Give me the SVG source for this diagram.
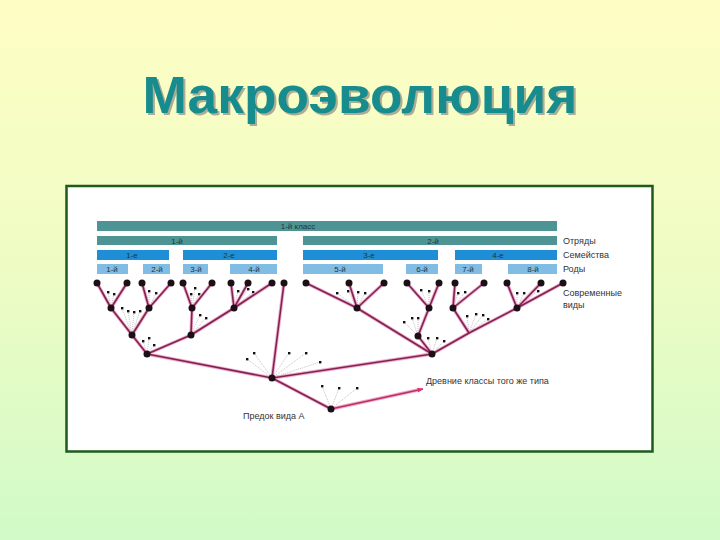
<svg xmlns="http://www.w3.org/2000/svg" width="720" height="540" viewBox="0 0 720 540">
<defs>
<linearGradient id="bg" x1="0" y1="0" x2="0" y2="1">
<stop offset="0" stop-color="#fefec4"/>
<stop offset="0.5" stop-color="#eefcc4"/>
<stop offset="1" stop-color="#d0fac8"/>
</linearGradient>
<filter id="sh" x="-5%" y="-20%" width="110%" height="140%">
<feDropShadow dx="2" dy="2" stdDeviation="0.6" flood-color="#8a8a80" flood-opacity="0.7"/>
</filter>
<marker id="arr" viewBox="0 0 10 10" refX="9" refY="5" markerWidth="6" markerHeight="6" orient="auto" markerUnits="userSpaceOnUse">
<path d="M0,1 L10,5 L0,9 Z" fill="#e0306a"/>
</marker>
<style>
.t{font-family:"Liberation Sans",Arial,sans-serif}
.cls{fill:#4f9494}
.fam{fill:#1e8fd6}
.gen{fill:#80bce4}
.bl{font-size:8px;fill:#22343c;text-anchor:middle}
.lab{font-size:9px;fill:#333}
.glow{fill:none;stroke:#f4a8c8;stroke-width:3.4;stroke-linecap:round;stroke-linejoin:round}
.br{fill:none;stroke:#7c2454;stroke-width:1.6;stroke-linecap:round;stroke-linejoin:round}
.dot{fill:#1a1016}
.sd{fill:#111}
.fan{fill:none;stroke:#999;stroke-width:0.6;stroke-dasharray:1 1}
</style>
</defs>
<rect width="720" height="540" fill="url(#bg)"/>
<g id="title">
<text class="t" x="360" y="113" font-size="52" font-weight="bold" fill="#158c8e" text-anchor="middle" textLength="435" lengthAdjust="spacingAndGlyphs" filter="url(#sh)">Макроэволюция</text>
</g>
<rect id="frame" x="66.5" y="186" width="586" height="265.5" fill="#ffffff" stroke="#1e5a1e" stroke-width="2.5"/>

<g id="bars">
<g id="class1"><rect class="cls" x="97" y="221" width="460" height="10"/><text class="t bl" x="298" y="229">1-й класс</text></g>
<g id="order1"><rect class="cls" x="97" y="236" width="180" height="9"/><text class="t bl" x="177" y="243.5">1-й</text></g>
<g id="order2"><rect class="cls" x="303" y="236" width="254" height="9"/><text class="t bl" x="433" y="243.5">2-й</text></g>
<g id="fam1"><rect class="fam" x="97" y="250" width="72" height="10"/><text class="t bl" x="132" y="258">1-е</text></g>
<g id="fam2"><rect class="fam" x="183" y="250" width="94" height="10"/><text class="t bl" x="229" y="258">2-е</text></g>
<g id="fam3"><rect class="fam" x="303" y="250" width="135" height="10"/><text class="t bl" x="369" y="258">3-е</text></g>
<g id="fam4"><rect class="fam" x="455" y="250" width="102" height="10"/><text class="t bl" x="498" y="258">4-е</text></g>
<g id="gen1"><rect class="gen" x="97" y="264" width="31" height="10"/><text class="t bl" x="112" y="272">1-й</text></g>
<g id="gen2"><rect class="gen" x="143" y="264" width="27" height="10"/><text class="t bl" x="157" y="272">2-й</text></g>
<g id="gen3"><rect class="gen" x="183" y="264" width="25" height="10"/><text class="t bl" x="196" y="272">3-й</text></g>
<g id="gen4"><rect class="gen" x="230" y="264" width="47" height="10"/><text class="t bl" x="254" y="272">4-й</text></g>
<g id="gen5"><rect class="gen" x="303" y="264" width="80" height="10"/><text class="t bl" x="340" y="272">5-й</text></g>
<g id="gen6"><rect class="gen" x="406" y="264" width="32" height="10"/><text class="t bl" x="422" y="272">6-й</text></g>
<g id="gen7"><rect class="gen" x="455" y="264" width="27" height="10"/><text class="t bl" x="468" y="272">7-й</text></g>
<g id="gen8"><rect class="gen" x="508" y="264" width="49" height="10"/><text class="t bl" x="533" y="272">8-й</text></g>
</g>

<g id="labels">
<text class="t lab" x="563" y="244">Отряды</text>
<text class="t lab" x="563" y="258">Семейства</text>
<text class="t lab" x="563" y="272">Роды</text>
<text class="t lab" x="563" y="296">Современные</text>
<text class="t lab" x="563" y="308">виды</text>
<text class="t lab" x="426" y="384">Древние классы того же типа</text>
<text class="t lab" x="243" y="419">Предок вида А</text>
</g>

<g id="fans">
<path class="fan" d="M108,292L111,308M114,294L111,308M149,291L149,308M156,293L149,308M195,288L192,308M191,294L192,308M199,294L192,308M238,291L234,308M248,289L234,308M253,292L234,308M122,308L132,335M128,311L132,335M134,312L132,335M140,311L132,335M200,315L191,335M206,318L191,335M143,341L147,354M149,338L147,354M154,345L147,354M247,359L272,378M254,353L272,378M289,353L272,378M306,353L272,378M320,362L272,378M322,386L331,409M339,388L331,409M357,388L331,409M337,293L357,308M348,291L357,308M358,292L357,308M365,293L357,308M421,290L429,308M429,291L429,308M404,322L418,336M412,318L418,336M418,318L418,336M428,338L432,354M437,338L432,354M444,341L432,354M458,293L453,308M465,292L453,308M467,316L469,333M476,314L469,333M483,315L469,333M488,319L469,333M517,293L517,308M524,293L517,308M538,291L517,308"/>
<g class="sd">
<rect x="107" y="291" width="2.4" height="2.4"/><rect x="113" y="293" width="2.4" height="2.4"/>
<rect x="148" y="290" width="2.4" height="2.4"/><rect x="155" y="292" width="2.4" height="2.4"/>
<rect x="194" y="287" width="2.4" height="2.4"/><rect x="190" y="293" width="2.4" height="2.4"/><rect x="198" y="293" width="2.4" height="2.4"/>
<rect x="237" y="290" width="2.4" height="2.4"/><rect x="247" y="288" width="2.4" height="2.4"/><rect x="252" y="291" width="2.4" height="2.4"/>
<rect x="121" y="307" width="2.4" height="2.4"/><rect x="127" y="310" width="2.4" height="2.4"/><rect x="133" y="311" width="2.4" height="2.4"/><rect x="139" y="310" width="2.4" height="2.4"/>
<rect x="199" y="314" width="2.4" height="2.4"/><rect x="205" y="317" width="2.4" height="2.4"/>
<rect x="142" y="340" width="2.4" height="2.4"/><rect x="148" y="337" width="2.4" height="2.4"/><rect x="153" y="344" width="2.4" height="2.4"/>
<rect x="246" y="358" width="2.4" height="2.4"/><rect x="253" y="352" width="2.4" height="2.4"/><rect x="288" y="352" width="2.4" height="2.4"/><rect x="305" y="352" width="2.4" height="2.4"/><rect x="319" y="361" width="2.4" height="2.4"/>
<rect x="321" y="385" width="2.4" height="2.4"/><rect x="338" y="387" width="2.4" height="2.4"/><rect x="356" y="387" width="2.4" height="2.4"/>
<rect x="336" y="292" width="2.4" height="2.4"/><rect x="347" y="290" width="2.4" height="2.4"/><rect x="357" y="291" width="2.4" height="2.4"/><rect x="364" y="292" width="2.4" height="2.4"/>
<rect x="420" y="289" width="2.4" height="2.4"/><rect x="428" y="290" width="2.4" height="2.4"/>
<rect x="403" y="321" width="2.4" height="2.4"/><rect x="411" y="317" width="2.4" height="2.4"/><rect x="417" y="317" width="2.4" height="2.4"/>
<rect x="427" y="337" width="2.4" height="2.4"/><rect x="436" y="337" width="2.4" height="2.4"/><rect x="443" y="340" width="2.4" height="2.4"/>
<rect x="457" y="292" width="2.4" height="2.4"/><rect x="464" y="291" width="2.4" height="2.4"/>
<rect x="466" y="315" width="2.4" height="2.4"/><rect x="475" y="313" width="2.4" height="2.4"/><rect x="482" y="314" width="2.4" height="2.4"/><rect x="487" y="318" width="2.4" height="2.4"/>
<rect x="516" y="292" width="2.4" height="2.4"/><rect x="523" y="292" width="2.4" height="2.4"/><rect x="537" y="290" width="2.4" height="2.4"/>
</g>
</g>

<g id="connectors">
<path id="branches-glow" class="glow" d="M97,283L111,308L132,335L147,354L272,378M127,283L111,308M142,283L149,308L132,335M171,283L149,308M183,283L192,308L191,335M212,283L192,308M231,283L234,308M248,283L234,308M272,283L234,308L191,335L147,354M284,283L272,378M272,378L432,354M306,283L357,308L432,354M349,283L357,308M384,283L357,308M407,283L429,308M439,283L429,308L418,336L432,354M455,283L453,308L469,333M484,283L453,308M507,283L517,308M541,283L517,308M563,283L517,308L469,333L432,354M272,378L331,409L418,390"/>
<path id="branches" class="br" d="M97,283L111,308L132,335L147,354L272,378M127,283L111,308M142,283L149,308L132,335M171,283L149,308M183,283L192,308L191,335M212,283L192,308M231,283L234,308M248,283L234,308M272,283L234,308L191,335L147,354M284,283L272,378M272,378L432,354M306,283L357,308L432,354M349,283L357,308M384,283L357,308M407,283L429,308M439,283L429,308L418,336L432,354M455,283L453,308L469,333M484,283L453,308M507,283L517,308M541,283L517,308M563,283L517,308L469,333L432,354M272,378L331,409"/>
<path id="arrow" d="M331,409L423,389" fill="none" stroke="#b8306a" stroke-width="1.6" marker-end="url(#arr)"/>
</g>

<g id="nodes" class="dot">
<g id="species"><circle cx="97" cy="283" r="3.5"/><circle cx="127" cy="283" r="3.5"/><circle cx="142" cy="283" r="3.5"/><circle cx="171" cy="283" r="3.5"/><circle cx="183" cy="283" r="3.5"/><circle cx="212" cy="283" r="3.5"/><circle cx="231" cy="283" r="3.5"/><circle cx="248" cy="283" r="3.5"/><circle cx="272" cy="283" r="3.5"/><circle cx="284" cy="283" r="3.5"/><circle cx="306" cy="283" r="3.5"/><circle cx="349" cy="283" r="3.5"/><circle cx="384" cy="283" r="3.5"/><circle cx="407" cy="283" r="3.5"/><circle cx="439" cy="283" r="3.5"/><circle cx="455" cy="283" r="3.5"/><circle cx="484" cy="283" r="3.5"/><circle cx="507" cy="283" r="3.5"/><circle cx="541" cy="283" r="3.5"/><circle cx="563" cy="283" r="3.5"/></g>
<g id="ancestors"><circle cx="111" cy="308" r="3.5"/><circle cx="149" cy="308" r="3.5"/><circle cx="192" cy="308" r="3.5"/><circle cx="234" cy="308" r="3.5"/><circle cx="132" cy="335" r="3.5"/><circle cx="191" cy="335" r="3.5"/><circle cx="147" cy="354" r="3.5"/><circle cx="357" cy="308" r="3.5"/><circle cx="429" cy="308" r="3.5"/><circle cx="453" cy="308" r="3.5"/><circle cx="517" cy="308" r="3.5"/><circle cx="418" cy="336" r="3.5"/><circle cx="432" cy="354" r="3.5"/></g>
<g id="root"><circle cx="272" cy="378" r="3.5"/></g>
<g id="ancestorA"><circle cx="331" cy="409" r="3.5"/></g>
</g>
</svg>
